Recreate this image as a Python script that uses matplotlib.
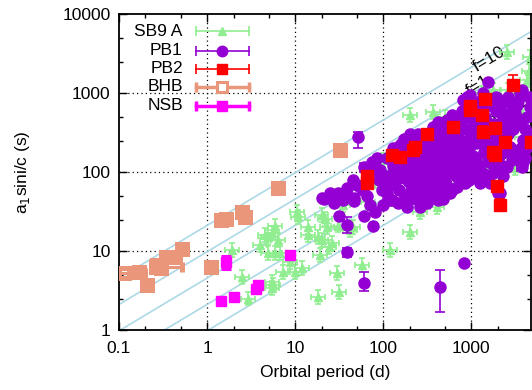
import numpy as np
import matplotlib
matplotlib.use('Agg')
import matplotlib.pyplot as plt
from matplotlib.ticker import FixedLocator, FixedFormatter, NullFormatter

plt.rcParams['font.family'] = ['Liberation Sans', 'DejaVu Sans']
plt.rcParams['font.size'] = 12

# ---- data (orbital period in days, a1 sini/c in seconds) ----
sb9_p = [1.92, 2.5, 2.9, 4.0, 4.9, 4.9, 4.56, 5.9, 6.7, 5.5, 6.4, 5.9, 5.5, 5.5, 5.6, 7.3, 10, 12,
         8.8, 10.5, 10.9, 14, 14, 18.2, 20, 20, 21.7, 23, 24.5, 26, 19.3, 18.2, 30, 31.6, 30.8, 35,
         42, 45.7, 57.5, 67, 71, 81, 97.6, 203, 120, 263, 410, 203, 370, 500, 2570, 1330, 4330,
         250, 625, 1780, 2600, 3600, 370, 700, 4700, 4700, 3800, 1100, 1280, 3160, 100, 150, 340,
         392, 550, 1000, 1500, 2000, 4500, 3000]
sb9_a = [10.3, 4.7, 2.5, 11.9, 9.4, 15, 16, 9.4, 9.4, 16.9, 13.8, 21, 4.05, 3.4, 3.7, 5.4, 5.4, 6.1,
         7.3, 31, 27, 20, 16, 15, 13.8, 28.6, 25.3, 20, 11.2, 12.6, 8.9, 2.6, 5.3, 3.0, 21, 38,
         18.5, 20, 6.7, 42, 86, 76, 97, 17.4, 10.3, 31, 36, 527, 575, 497, 3300, 1000, 1460,
         277, 207, 1100, 1100, 610, 116, 155, 2860, 815, 277, 610, 112, 112, 142, 120, 200,
         100, 80, 90, 130, 170, 1900, 900]

pb1_p = [21.4, 30.8, 46.6, 31.6, 60.8, 81, 77, 832, 50.7, 59, 20, 35, 47, 55, 39,
         71, 75, 81, 81, 92, 97, 100, 104, 90, 85,
         113, 120, 120, 126, 130, 148, 148, 156, 165, 170, 180, 180, 180, 186, 186, 140, 160, 130, 115, 195, 200,
         203, 214, 214, 219, 230, 250, 263, 263, 263, 283, 283, 300, 316, 316, 340, 340, 340, 340, 370, 370,
         390, 390, 250, 290, 220, 360, 380, 330,
         410, 420, 420, 445, 445, 470, 500, 530, 530, 575, 575, 600, 650, 650, 700, 700, 750, 750, 780,
         450, 500, 620, 680, 560, 720,
         815, 850, 890, 900, 975, 950, 1000, 1000, 1100, 1170, 1170, 1170, 1280, 1300, 1400, 1450, 1570,
         1570, 1640, 1640, 900, 1050, 1200, 1500, 1350,
         1780, 1800, 1970, 2000, 2000, 2140, 2140, 2140, 2300, 2400, 2570, 2570, 2600, 2800, 3000, 3000,
         3160, 3300, 3600, 3800, 3800, 3900, 3900, 4300, 4700, 4700, 2200, 2500, 1900, 3400, 4200,
         110, 110, 135, 135, 150, 150, 175, 175, 210, 210, 210, 240, 240, 240, 270, 270, 270,
         300, 300, 300, 330, 330, 360, 360, 360, 400, 400, 400, 430, 430, 430, 480, 480, 480,
         520, 520, 520, 560, 560, 600, 600, 600, 660, 660, 720, 720, 720, 800, 800, 800,
         880, 880, 880, 960, 960, 960, 1050, 1050, 1130, 1130, 1130, 1250, 1250, 1250,
         1400, 1400, 1400, 1550, 1550, 1700, 1700, 1700, 1900, 1900, 2100, 2100, 2100, 2300, 2300,
         2600, 2600, 2900, 2900, 3300, 3300, 3700, 3700, 4100, 4100, 4500, 4500,
         25, 28, 45, 65, 65]
pb1_a = [45.5, 54, 43, 27.7, 27.7, 31, 20.7, 7.0, 68, 59, 47, 44, 47, 65, 63,
         38, 134, 119, 106, 106, 59, 38, 68, 80, 150,
         47, 68, 44, 44, 200, 96, 40, 220, 233, 42, 207, 106, 48, 130, 36, 150, 170, 120, 90, 75, 300,
         150, 72, 255, 48, 120, 155, 116, 36, 59, 54, 76, 200, 254, 40, 92, 174, 54, 68, 372, 47,
         47, 140, 300, 130, 95, 250, 100, 300,
         270, 430, 44, 372, 96, 65, 200, 455, 96, 54, 150, 300, 120, 380, 65, 200, 455, 116, 600,
         160, 75, 250, 90, 240, 320,
         815, 72, 497, 890, 945, 200, 300, 120, 400, 660, 116, 92, 72, 250, 180, 500, 1380,
         155, 815, 72, 150, 600, 350, 300, 1000,
         96, 400, 123, 55, 250, 815, 116, 54, 119, 550, 770, 116, 890, 207, 610, 350,
         560, 165, 1000, 1100, 165, 255, 134, 497, 660, 300, 180, 400, 600, 800, 200,
         150, 55, 75, 180, 60, 120, 85, 260, 110, 190, 60, 85, 210, 45, 170, 95, 250,
         140, 80, 45, 120, 220, 60, 160, 320, 80, 200, 130, 55, 330, 170, 120, 270, 45,
         160, 350, 70, 110, 420, 200, 60, 520, 160, 300, 90, 420, 140, 250, 110, 600,
         350, 180, 95, 500, 250, 80, 160, 750, 230, 520, 140, 120, 450, 800,
         350, 95, 650, 220, 420, 130, 700, 300, 200, 900, 320, 160, 650, 90, 480,
         180, 300, 140, 480, 400, 700, 200, 450, 350, 150, 900, 250,
         55, 40, 80, 50, 90]
# PB1 points with error bars: period, value, lower, upper
pb1e_p = [52, 40, 38.9, 38.9, 60.8, 445, 60.8, 3800]
pb1e_a = [277, 48, 21.3, 9.7, 3.9, 3.5, 115, 115]
pb1e_lo = [201, 40, 17, 8.4, 3.1, 1.7, 100, 115]
pb1e_hi = [320, 56, 27, 11, 5.4, 5.7, 130, 115]
pb1e_xlo = [52, 40, 38.9, 38.9, 60.8, 420, 60.8, 3300]
pb1e_xhi = [52, 40, 38.9, 38.9, 60.8, 470, 60.8, 4300]

pb2_p = [66, 66, 126, 156, 219, 230, 316, 624, 975, 975, 1445, 1330, 1370, 1875, 2430, 1780, 1850,
         3000, 1970, 4800, 2140]
pb2_a = [90, 72, 164, 155, 190, 205, 300, 375, 610, 680, 840, 530, 320, 360, 240, 179, 165,
         1260, 66, 240, 38]
pb2_lo = [90, 72, 164, 155, 190, 205, 300, 375, 610, 680, 840, 530, 280, 360, 240, 150, 165,
          1050, 58, 240, 32]
pb2_hi = [90, 72, 164, 155, 190, 205, 300, 375, 610, 680, 840, 530, 380, 360, 240, 210, 165,
          1700, 75, 240, 46]

bhb_p = [0.114, 0.169, 0.208, 0.263, 0.30, 0.34, 0.43, 0.52, 0.27, 0.35, 1.11, 1.64, 2.5, 2.7, 1.44,
         32.5, 6.4]
bhb_a = [5.3, 5.4, 3.7, 6.3, 6.1, 8.4, 8.3, 10.6, 6.7, 8.3, 6.3, 25.4, 31, 27, 25, 190, 62.6]
bhb_xlo = [0.1, 0.169, 0.208, 0.25, 0.30, 0.34, 0.43, 0.52, 0.27, 0.35, 1.11, 1.64, 2.5, 2.7, 1.44,
           32.5, 6.4]
bhb_xhi = [0.2, 0.169, 0.208, 0.52, 0.30, 0.34, 0.43, 0.52, 0.27, 0.35, 1.11, 1.64, 2.5, 2.7, 1.44,
           32.5, 6.4]

nsb_p = [1.44, 2.05, 1.65, 3.6, 3.8, 8.8]
nsb_a = [2.3, 2.6, 7.2, 3.3, 3.7, 8.9]
nsb_lo = [2.3, 2.6, 6.0, 3.3, 3.7, 8.9]
nsb_hi = [2.3, 2.6, 8.6, 3.3, 3.7, 8.9]

f_values = [10, 1, 0.1, 0.01, 0.001]
f_labels = ['f=10', 'f=1', 'f=0.1', 'f=0.01']
f_label_p = [1600, 1200, 2770, 1875]
f_label_a = [2700, 1250, 610, 142]

c_sb9 = '#90ee90'
c_pb1 = '#9400d3'
c_pb2 = '#ff0000'
c_bhb = '#e9967a'
c_nsb = '#ff00ff'

fig = plt.figure(figsize=(5.32, 3.90), dpi=100)
ax = fig.add_axes([119/532, 1-330/390, 412/532, 316/390])
ax.set_xscale('log')
ax.set_yscale('log')
ax.set_xlim(0.1, 4800)
ax.set_ylim(1, 10000)

# constant mass function lines
T_sun = 4.925490947e-6
pp = np.logspace(-1.2, 4, 200)
for f in f_values:
    aa = (f * T_sun * (pp * 86400.0)**2 / (4 * np.pi**2))**(1.0/3.0)
    ax.plot(pp, aa, color='#add8e6', lw=1.2, zorder=1)
for lab, lp, la in zip(f_labels, f_label_p, f_label_a):
    ax.text(lp, la, lab, rotation=31, ha='center', va='center', rotation_mode='anchor',
            fontsize=12.5, zorder=1.5)

# grid
for v in [1, 10, 100, 1000]:
    ax.axvline(v, color='black', ls=(0, (1, 2.5)), lw=0.9, zorder=0.5)
for v in [10, 100, 1000]:
    ax.axhline(v, color='black', ls=(0, (1, 2.5)), lw=0.9, zorder=0.5)

# SB9
sp = np.array(sb9_p); sa = np.array(sb9_a)
ax.errorbar(sp, sa, xerr=[sp - sp/1.2, sp*1.2 - sp], yerr=[sa - sa/1.22, sa*1.22 - sa],
            fmt='^', color=c_sb9, ms=5.5, lw=1.2, capsize=2.5, capthick=1.2, zorder=2)

# PB1
ax.plot(pb1_p, pb1_a, 'o', color=c_pb1, ms=8, mec=c_pb1, zorder=3)
ep = np.array(pb1e_p); ea = np.array(pb1e_a)
ax.errorbar(ep, ea, yerr=[ea - np.array(pb1e_lo), np.array(pb1e_hi) - ea],
            xerr=[ep - np.array(pb1e_xlo), np.array(pb1e_xhi) - ep],
            fmt='o', color=c_pb1, ms=8, lw=1.2, capsize=3.5, capthick=1.2, zorder=3)

# PB2
rp = np.array(pb2_p); ra = np.array(pb2_a)
ax.errorbar(rp, ra, yerr=[ra - np.array(pb2_lo), np.array(pb2_hi) - ra],
            xerr=[rp - rp/1.08, rp*1.08 - rp],
            fmt='s', color=c_pb2, ms=8.5, lw=1.2, capsize=3.5, capthick=1.2, zorder=4)

# BHB
bp = np.array(bhb_p); ba = np.array(bhb_a)
ax.errorbar(bp, ba, xerr=[bp - np.array(bhb_xlo), np.array(bhb_xhi) - bp],
            fmt='s', color=c_bhb, mfc='none', mec=c_bhb, mew=3.6, ms=7.5, lw=2.2, capsize=3.5,
            capthick=2.2, zorder=5)

# NSB
npp = np.array(nsb_p); na = np.array(nsb_a)
ax.errorbar(npp, na, yerr=[na - np.array(nsb_lo), np.array(nsb_hi) - na],
            fmt='s', color=c_nsb, ms=7.5, lw=2.2, capsize=3.5, capthick=2.2, zorder=6)

# legend drawn by hand (gnuplot style)
leg = [('SB9 A', c_sb9, '^', 1.2, 'full'), ('PB1', c_pb1, 'o', 1.2, 'full'),
       ('PB2', c_pb2, 's', 1.2, 'full'), ('BHB', c_bhb, 's', 2.5, 'none'),
       ('NSB', c_nsb, 's', 2.5, 'full')]
rows = [0.946, 0.883, 0.826, 0.769, 0.709]
for (lab, col, mk, lw, fill), yy in zip(leg, rows):
    ax.text(0.155, yy, lab, transform=ax.transAxes, ha='right', va='center', fontsize=12.5,
            zorder=10)
    ax.plot([0.187, 0.316], [yy, yy], transform=ax.transAxes, color=col, lw=lw, zorder=10)
    ax.plot([0.187, 0.316], [yy, yy], transform=ax.transAxes, ls='none', marker='|', ms=7,
            mew=lw, color=col, zorder=10)
    if fill == 'none':
        ax.plot([0.25], [yy], transform=ax.transAxes, marker=mk, ms=7, mfc='white', mec=col,
                mew=2.2, zorder=11)
    elif mk == '^':
        ax.plot([0.25], [yy], transform=ax.transAxes, marker=mk, ms=5.5, color=col, zorder=11)
    else:
        ax.plot([0.25], [yy], transform=ax.transAxes, marker=mk, ms=7.5, color=col, zorder=11)

# ticks
ax.xaxis.set_major_locator(FixedLocator([0.1, 1, 10, 100, 1000]))
ax.xaxis.set_major_formatter(FixedFormatter(['0.1', '1', '10', '100', '1000']))
ax.yaxis.set_major_locator(FixedLocator([1, 10, 100, 1000, 10000]))
ax.yaxis.set_major_formatter(FixedFormatter(['1', '10', '100', '1000', '10000']))
xmin = [m * d for d in [0.1, 1, 10, 100, 1000] for m in [2, 5]]
ymin = [m * d for d in [1, 10, 100, 1000] for m in [2.5, 5]]
ax.xaxis.set_minor_locator(FixedLocator(xmin))
ax.yaxis.set_minor_locator(FixedLocator(ymin))
ax.xaxis.set_minor_formatter(NullFormatter())
ax.yaxis.set_minor_formatter(NullFormatter())
ax.tick_params(which='both', direction='in', top=True, right=True, labelsize=12.5, width=1)
ax.tick_params(which='major', length=6)
ax.tick_params(which='minor', length=3)
ax.tick_params(axis='x', pad=8)
ax.tick_params(axis='y', pad=6)
for s in ax.spines.values():
    s.set_linewidth(1.3)

ax.set_xlabel('Orbital period (d)', fontsize=12.5)
ax.set_ylabel('a$_1$sini/c (s)', fontsize=12.5)
ax.xaxis.set_label_coords(0.5, -0.112)
ax.yaxis.set_label_coords(-0.212, 0.5)

fig.savefig('out.png', dpi=100)
